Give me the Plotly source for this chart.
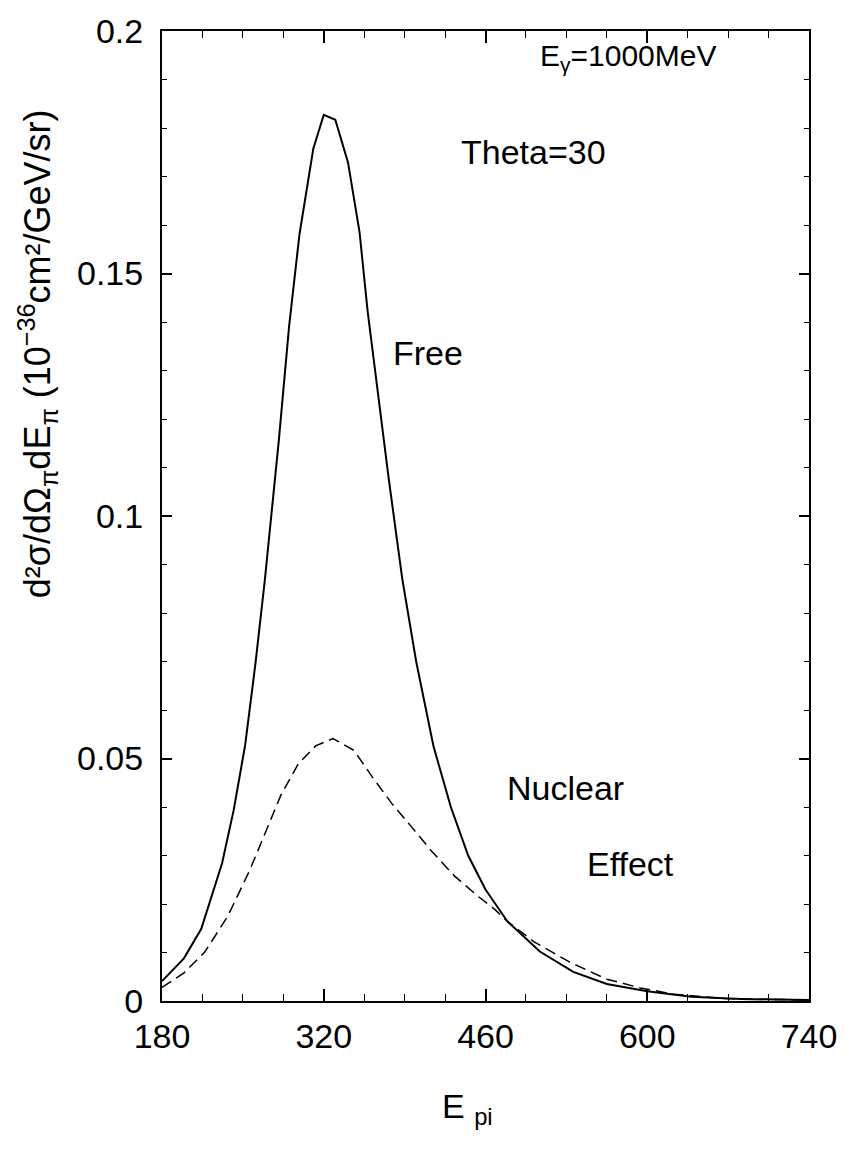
import plotly.graph_objects as go

# ---- data ----
free_e = [180, 199, 214, 232, 242, 252, 261, 269, 281, 290, 299, 308, 311, 320, 330,
          341, 351, 358, 367, 376, 388, 400, 415, 430, 445, 460, 479, 507, 536, 565,
          600, 638, 681, 740]
free_v = [0.0041, 0.0088, 0.0149, 0.0284, 0.0393, 0.0528, 0.0698, 0.0868, 0.1153, 0.1391,
          0.1581, 0.1710, 0.1758, 0.1827, 0.1817, 0.1729, 0.1585, 0.1422, 0.1251, 0.1081,
          0.0870, 0.0700, 0.0525, 0.0400, 0.0300, 0.0230, 0.0164, 0.0102, 0.0060, 0.0035,
          0.0020, 0.0009, 0.0004, 0.0002]

nucl_e = [180, 199, 217, 237, 256, 271, 283, 298, 313, 328, 346, 362, 379, 396, 413,
          433, 454, 468, 479, 502, 533, 565, 594, 623, 667, 740]
nucl_v = [0.0028, 0.0058, 0.0101, 0.0175, 0.0270, 0.0357, 0.0425, 0.0489, 0.0526, 0.0541,
          0.0517, 0.0462, 0.0407, 0.0359, 0.0310, 0.0258, 0.0215, 0.0189, 0.0164, 0.0122,
          0.0080, 0.0045, 0.0027, 0.0014, 0.0005, 0.0002]

x_ticks = [180, 320, 460, 600, 740]
x_tick_labels = ["180", "320", "460", "600", "740"]
y_ticks = [0, 0.05, 0.1, 0.15, 0.2]
y_tick_labels = ["0", "0.05", "0.1", "0.15", "0.2"]

W, H = 849, 1163
L, R, T, B = 162, 810, 19, 1001
FONT = "Liberation Sans, Arial, Helvetica, sans-serif"


def px(xpix):
    return (xpix - L) / (R - L)


def py(ypix):
    return (B - ypix) / (B - T)


fig = go.Figure()
fig.add_trace(go.Scatter(x=free_e, y=free_v, mode="lines",
                         line=dict(color="black", width=2), showlegend=False))
fig.add_trace(go.Scatter(x=nucl_e, y=nucl_v, mode="lines",
                         line=dict(color="black", width=1.5, dash="11px,6px"),
                         showlegend=False))

axis_common = dict(showgrid=False, zeroline=False, showline=True, linecolor="black",
                   linewidth=2, mirror="ticks", ticks="inside", tickcolor="black",
                   tickwidth=1.5, ticklabeloverflow="allow",
                   tickfont=dict(family=FONT, size=34, color="black"))

fig.update_xaxes(range=[180, 740], tickvals=x_ticks, ticktext=x_tick_labels,
                 ticklen=12, ticklabelstandoff=4,
                 minor=dict(ticks="inside", dtick=35, tick0=180, ticklen=7,
                            tickcolor="black", tickwidth=1.2),
                 **axis_common)
fig.update_yaxes(range=[0, 0.2], tickvals=y_ticks, ticktext=y_tick_labels,
                 ticklen=10, ticklabelstandoff=10,
                 minor=dict(ticks="inside", dtick=0.01, tick0=0, ticklen=5,
                            tickcolor="black", tickwidth=1.2),
                 **axis_common)

annots = [
    dict(text="Theta=30", x=px(534), y=py(141), size=34),
    dict(text="Free", x=px(428), y=py(345), size=34),
    dict(text="Nuclear", x=px(566), y=py(785), size=34),
    dict(text="Effect", x=px(631), y=py(862), size=34),
    dict(text="E<sub>γ</sub>=1000MeV", x=px(629), y=py(46), size=30),
]
for a in annots:
    fig.add_annotation(text=a["text"], x=a["x"], y=a["y"], xref="paper", yref="paper",
                       showarrow=False, xanchor="center", yanchor="middle",
                       font=dict(family=FONT, size=a["size"], color="black"))

# y-axis title (rotated)
fig.add_annotation(text="d²σ/dΩ<sub>π</sub>dE<sub>π</sub> (10<sup>−36</sup>cm²/GeV/sr)",
                   x=px(37), y=py(346), xref="paper", yref="paper", showarrow=False,
                   textangle=-90, xanchor="center", yanchor="middle",
                   font=dict(family=FONT, size=36, color="black"))
# x-axis title
fig.add_annotation(text="E <sub>pi</sub>", x=px(468), y=py(1110), xref="paper",
                   yref="paper", showarrow=False, xanchor="center", yanchor="middle",
                   font=dict(family=FONT, size=34, color="black"))

fig.update_layout(width=W, height=H, margin=dict(l=L, r=W - R, t=T, b=H - B),
                  paper_bgcolor="white", plot_bgcolor="white")

fig.write_html("out.html")
